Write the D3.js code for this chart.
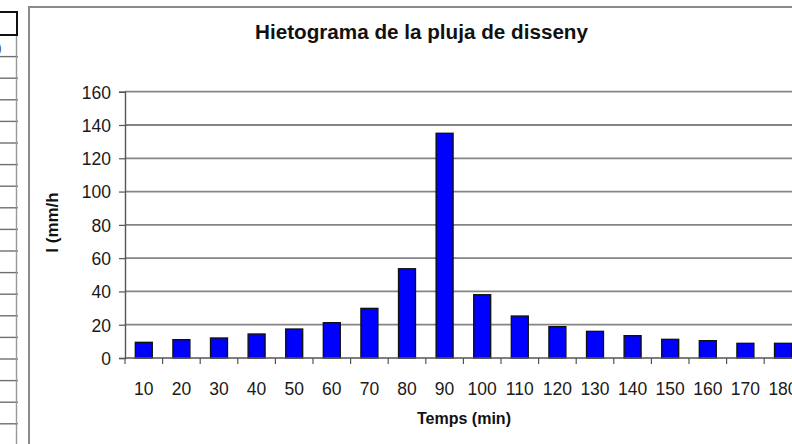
<!DOCTYPE html>
<html>
<head>
<meta charset="utf-8">
<script src="https://cdn.jsdelivr.net/npm/d3@7"></script>
<style>
  html, body { margin: 0; padding: 0; background: #fff; }
  svg { display: block; font-family: "Liberation Sans", Arial, sans-serif; }
</style>
</head>
<body>
<svg id="chart" width="792" height="444"></svg>
<script>
// Design storm hyetograph: rainfall intensity per 10-minute block
const categories = ["10","20","30","40","50","60","70","80","90","100","110","120","130","140","150","160","170","180"];
const intensity = [9.4, 11.0, 12.0, 14.4, 17.4, 21.2, 29.8, 53.6, 135.0, 38.0, 25.2, 18.8, 16.0, 13.4, 11.2, 10.4, 8.8, 8.8];
const yTicks = [0, 20, 40, 60, 80, 100, 120, 140, 160];
const title = "Hietograma de la pluja de disseny";
const xTitle = "Temps (min)";
const yTitle = "I (mm/h";

const svg = d3.select("#chart");
const W = 792, H = 444;

// Spreadsheet cells peeking in on the left
const sheet = svg.append("g");
const rowH = 21.6;
for (let yy = 35 + rowH; yy < H; yy += rowH) {
  sheet.append("line").attr("x1", 0).attr("x2", 18).attr("y1", yy).attr("y2", yy)
    .attr("stroke", "#6f6f6f").attr("stroke-width", 1.4);
}
sheet.append("line").attr("x1", 16.5).attr("x2", 16.5).attr("y1", 35).attr("y2", H)
  .attr("stroke", "#999").attr("stroke-width", 1.4);
sheet.append("rect").attr("x", -2).attr("y", 12).attr("width", 19).attr("height", 23)
  .attr("fill", "none").attr("stroke", "#111").attr("stroke-width", 2);
sheet.append("text").attr("x", -3).attr("y", 53).attr("font-size", 14).attr("fill", "#444").text(")");

// Chart frame
svg.append("path").attr("d", `M29,${H} L29,7 L${W + 5},7`)
  .attr("fill", "none").attr("stroke", "#8a8a8a").attr("stroke-width", 2);

// Scales
const x0 = 125, step = 37.6;
const x = d3.scaleBand().domain(categories)
  .range([x0, x0 + step * categories.length])
  .paddingInner(0.55).paddingOuter(0.275);
const y = d3.scaleLinear().domain([0, 160]).range([358, 91.7]);

// Horizontal gridlines
svg.append("g").selectAll("line").data(yTicks.filter(d => d > 0)).join("line")
  .attr("x1", x0).attr("x2", W + 5)
  .attr("y1", d => y(d)).attr("y2", d => y(d))
  .attr("stroke", "#858585").attr("stroke-width", 1.8);

// Y axis
const yAxis = svg.append("g").attr("transform", `translate(${x0},0)`)
  .call(d3.axisLeft(y).tickValues(yTicks).tickSize(6).tickPadding(8).tickFormat(d3.format("d")));
yAxis.select(".domain").attr("stroke", "#555").attr("stroke-width", 1.4);
yAxis.selectAll(".tick line").attr("stroke", "#555").attr("stroke-width", 1.2);
yAxis.selectAll(".tick text").attr("font-size", 17.5).attr("fill", "#1a1a1a")
  .attr("font-family", "Liberation Sans, Arial, sans-serif").attr("dy", "0.36em");

// Bars
svg.append("g").selectAll("rect").data(intensity).join("rect")
  .attr("x", (d, i) => x(categories[i]))
  .attr("width", x.bandwidth())
  .attr("y", d => y(d))
  .attr("height", d => y(0) - y(d))
  .attr("fill", "#0000ff").attr("stroke", "#111").attr("stroke-width", 1.4);

// X axis: baseline, category boundary ticks and labels
svg.append("line").attr("x1", x0).attr("x2", W + 5).attr("y1", y(0)).attr("y2", y(0))
  .attr("stroke", "#555").attr("stroke-width", 1.4);
const bounds = d3.range(categories.length + 1).map(i => x0 + i * x.step());
svg.append("g").selectAll("line").data(bounds).join("line")
  .attr("x1", d => d).attr("x2", d => d).attr("y1", y(0)).attr("y2", y(0) + 6)
  .attr("stroke", "#555").attr("stroke-width", 1.2);
svg.append("g").selectAll("text").data(categories).join("text")
  .attr("x", d => x(d) + x.bandwidth() / 2).attr("y", 395)
  .attr("text-anchor", "middle").attr("font-size", 17.5).attr("fill", "#1a1a1a")
  .text(d => d);

// Titles
svg.append("text").attr("x", 421.5).attr("y", 38.5).attr("text-anchor", "middle")
  .attr("font-size", 19.5).attr("font-weight", "bold").attr("fill", "#111")
  .attr("textLength", 333).attr("lengthAdjust", "spacingAndGlyphs").text(title);
svg.append("text").attr("x", 464).attr("y", 424).attr("text-anchor", "middle")
  .attr("font-size", 16).attr("font-weight", "bold").attr("fill", "#111").text(xTitle);
svg.append("text").attr("transform", "translate(58,222.5) rotate(-90)").attr("text-anchor", "middle")
  .attr("font-size", 17).attr("font-weight", "bold").attr("fill", "#111").text(yTitle);
</script>
</body>
</html>
